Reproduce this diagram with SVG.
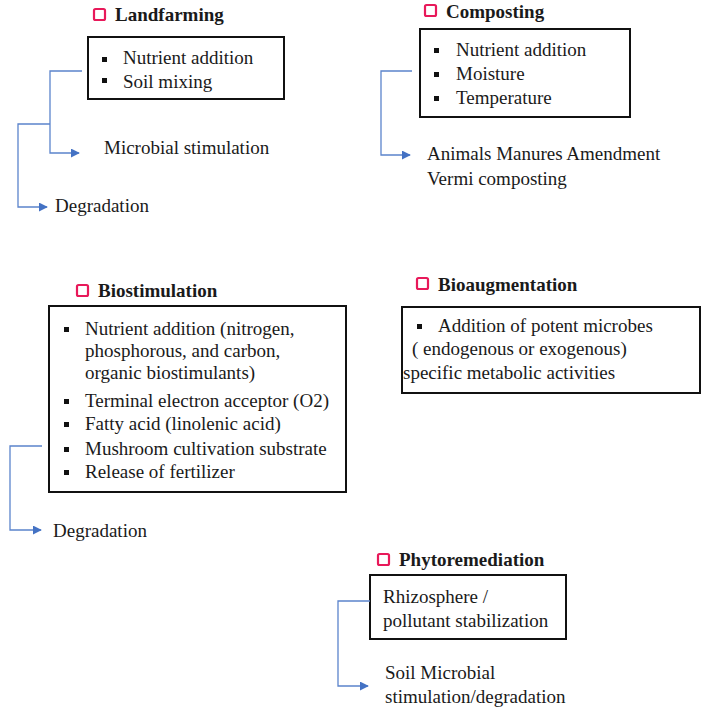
<svg xmlns="http://www.w3.org/2000/svg" width="708" height="718" viewBox="0 0 708 718">
<style>
text{font-family:"Liberation Serif","Times New Roman","DejaVu Serif",serif;font-size:19px;fill:#1a1a1a}
.t{font-weight:bold}
.box{fill:none;stroke:#111;stroke-width:2}
.icon{fill:none;stroke:#e8195a;stroke-width:2.2}
.b{fill:#111}
.c{fill:none;stroke:#5b84cc;stroke-width:1.3}
</style>
<defs>
<marker id="ah" viewBox="0 0 10 10" refX="9" refY="5" markerWidth="9" markerHeight="9" markerUnits="userSpaceOnUse" orient="auto">
<path d="M0,0 L10,5 L0,10 z" fill="#4472c4"/>
</marker>
</defs>
<rect width="708" height="718" fill="#fff"/>

<g id="landfarming">
<rect class="icon" x="94" y="9" width="11" height="11" rx="1.5"/>
<text class="t" x="115" y="21">Landfarming</text>
<rect class="box" x="88" y="37" width="196" height="62"/>
<rect class="b" x="102" y="57" width="5" height="5"/>
<text x="123" y="64">Nutrient addition</text>
<rect class="b" x="102" y="78" width="5" height="5"/>
<text x="123" y="88">Soil mixing</text>
<text x="104" y="154">Microbial stimulation</text>
<text x="55" y="212">Degradation</text>
</g>

<g id="composting">
<rect class="icon" x="425" y="5" width="11" height="11" rx="1.5"/>
<text class="t" x="446" y="18">Composting</text>
<rect class="box" x="420" y="29" width="210" height="88"/>
<rect class="b" x="434" y="48" width="5" height="5"/>
<text x="456" y="56">Nutrient addition</text>
<rect class="b" x="434" y="72" width="5" height="5"/>
<text x="456" y="80">Moisture</text>
<rect class="b" x="434" y="96" width="5" height="5"/>
<text x="456" y="104">Temperature</text>
<text x="427" y="160">Animals Manures Amendment</text>
<text x="427" y="185">Vermi composting</text>
</g>

<g id="biostimulation">
<rect class="icon" x="77" y="285" width="11" height="11" rx="1.5"/>
<text class="t" x="98" y="297">Biostimulation</text>
<rect class="box" x="49" y="306" width="297" height="186"/>
<rect class="b" x="64" y="327" width="5" height="5"/>
<text x="85" y="335">Nutrient addition (nitrogen,</text>
<text x="85" y="357">phosphorous, and carbon,</text>
<text x="85" y="379">organic biostimulants)</text>
<rect class="b" x="64" y="399" width="5" height="5"/>
<text x="85" y="407">Terminal electron acceptor (O2)</text>
<rect class="b" x="64" y="422" width="5" height="5"/>
<text x="85" y="430">Fatty acid (linolenic acid)</text>
<rect class="b" x="64" y="447" width="5" height="5"/>
<text x="85" y="455">Mushroom cultivation substrate</text>
<rect class="b" x="64" y="470" width="5" height="5"/>
<text x="85" y="478">Release of fertilizer</text>
<text x="53" y="537">Degradation</text>
</g>

<g id="bioaugmentation">
<rect class="icon" x="417" y="278" width="11" height="11" rx="1.5"/>
<text class="t" x="438" y="291">Bioaugmentation</text>
<rect class="box" x="402" y="307" width="298" height="86"/>
<rect class="b" x="417" y="324" width="5" height="5"/>
<text x="438" y="332">Addition of potent microbes</text>
<text x="412" y="355">( endogenous or exogenous)</text>
<text x="403" y="379">specific metabolic activities</text>
</g>

<g id="phytoremediation">
<rect class="icon" x="378" y="554" width="11" height="11" rx="1.5"/>
<text class="t" x="399" y="566">Phytoremediation</text>
<rect class="box" x="370" y="575" width="196" height="64"/>
<text x="383" y="603">Rhizosphere /</text>
<text x="383" y="627">pollutant stabilization</text>
<text x="385" y="679">Soil Microbial</text>
<text x="385" y="703">stimulation/degradation</text>
</g>

<g id="connectors">
<path class="c" d="M82,71 H50 V153 H79" marker-end="url(#ah)"/>
<path class="c" d="M50,124 H18 V207 H47" marker-end="url(#ah)"/>
<path class="c" d="M412,71 H381 V155 H410" marker-end="url(#ah)"/>
<path class="c" d="M42,446 H10 V530 H41" marker-end="url(#ah)"/>
<path class="c" d="M370,601 H338 V686 H368" marker-end="url(#ah)"/>
</g>
</svg>
